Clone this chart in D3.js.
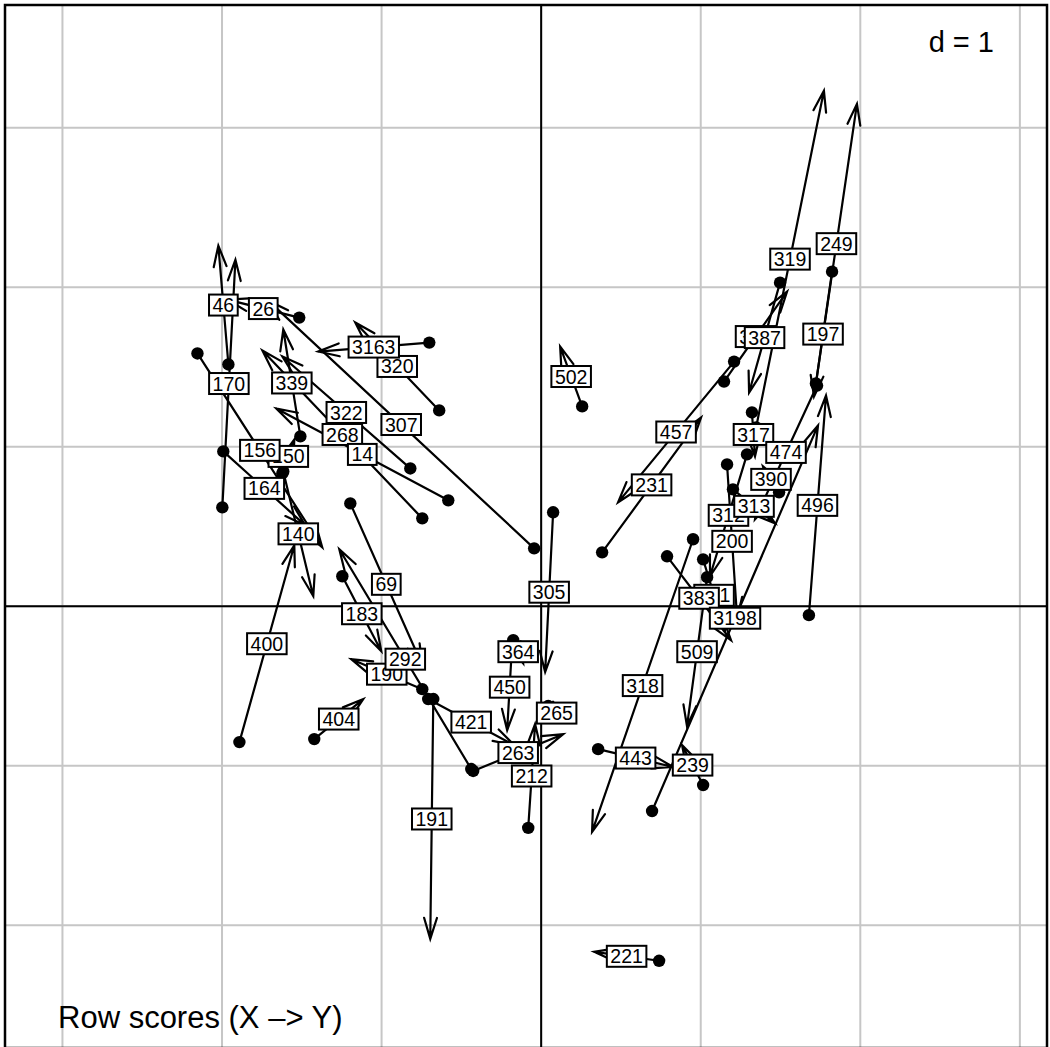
<!DOCTYPE html>
<html>
<head>
<meta charset="utf-8">
<script src="https://cdn.jsdelivr.net/npm/d3@7"></script>
<style>
  body { margin: 0; background: #fff; }
  svg { display: block; }
  text { font-family: "Liberation Sans", Arial, Helvetica, sans-serif; }
</style>
</head>
<body>
<svg id="chart" width="1050" height="1047"></svg>
<script>
// Row identifiers, in drawing order (later labels sit on top of earlier ones)
const rowLabels = ["46","26","320","3163","170","339","322","307","268","150","156","14","164","140",
  "400","69","183","190","292","404","364","450","305","421","191","265","263","212","221",
  "502","457","231","319","249","385","387","197","317","474","390","312","313","200","496",
  "361","383","3198","509","318","443","239"];

// Coordinates of each row in the X table (arrow origin, drawn as a dot)
const originX = [-1.960,-1.516,-0.639,-0.701,-1.998,-1.509,-0.820,-0.044,-0.745,-1.622,-2.154,-0.582,-1.992,-1.616,
  -1.891,-1.196,-1.246,-0.745,-0.438,-1.422,-0.175,-0.182,0.075,-0.708,-0.676,0.044,-0.426,-0.081,0.739,
  0.257,1.209,0.382,1.347,1.722,1.146,1.497,1.823,1.321,1.729,1.491,1.290,1.202,1.165,1.678,
  1.015,0.789,0.695,1.040,0.952,0.357,1.015];
const originY = [1.516,1.810,1.228,1.653,0.620,1.065,0.864,0.363,0.551,0.833,1.585,0.664,0.971,0.845,
  -0.852,0.645,0.188,-0.520,-1.021,-0.833,-0.213,-0.238,0.589,-0.582,-0.582,-0.626,-1.033,-1.390,-2.223,
  1.253,1.534,0.338,1.121,1.397,1.409,2.029,2.098,1.215,1.384,0.714,0.952,0.733,0.889,-0.056,
  0.294,0.313,-1.284,0.182,0.420,-0.896,-1.121];

// Coordinates of each row in the Y table (arrow head)
const targetX = [-2.023,-1.967,-1.165,-1.397,-1.916,-1.616,-1.622,-1.710,-1.747,-1.547,-1.372,-1.660,-1.478,-1.428,
  -1.547,-0.745,-1.002,-1.190,-1.265,-1.115,-0.113,-0.213,0.025,-0.169,-0.695,0.150,0.138,-0.038,0.332,
  0.119,0.482,1.002,1.772,1.979,1.541,1.303,1.710,1.340,1.340,1.390,1.058,1.466,1.228,1.785,
  1.152,1.190,1.735,0.914,0.319,0.827,0.883];
const targetY = [2.261,1.923,1.779,1.597,2.173,1.735,1.566,1.916,1.603,1.046,0.370,1.240,0.507,0.063,
  0.382,-0.370,-0.282,-0.332,0.357,-0.582,-0.357,-0.777,-0.413,-0.871,-2.086,-0.714,-0.802,-0.739,-2.167,
  1.628,0.651,1.184,3.232,3.150,1.973,1.340,1.315,0.939,0.545,0.877,0.188,0.520,-0.075,1.321,
  -0.157,-0.213,1.134,-0.752,-1.415,-1.008,-0.871];

// Grid positions (one unit = d) and plot texts
const gridSteps = [-3, -2, -1, 0, 1, 2, 3];
const scaleText = "d = 1";
const plotTitle = "Row scores (X \u2013> Y)";

const svg = d3.select("#chart");
const frame = { left: 5, top: 5, right: 1047, bottom: 1048 };

const x = d3.scaleLinear().domain([-3.36, 3.17]).range([frame.left, frame.right]);
const y = d3.scaleLinear().domain([3.77, -2.77]).range([frame.top, frame.bottom]);

svg.append("rect").attr("width", 1050).attr("height", 1047).attr("fill", "#fff");

svg.append("clipPath").attr("id", "plotClip")
  .append("rect").attr("x", frame.left).attr("y", frame.top)
  .attr("width", frame.right - frame.left).attr("height", frame.bottom - frame.top);

const plot = svg.append("g").attr("clip-path", "url(#plotClip)");

// light grid
plot.append("g").selectAll("line").data(gridSteps).join("line")
  .attr("x1", d => x(d)).attr("x2", d => x(d))
  .attr("y1", frame.top).attr("y2", frame.bottom)
  .attr("stroke", "#c6c6c6").attr("stroke-width", 2);
plot.append("g").selectAll("line").data(gridSteps).join("line")
  .attr("y1", d => y(d)).attr("y2", d => y(d))
  .attr("x1", frame.left).attr("x2", frame.right)
  .attr("stroke", "#c6c6c6").attr("stroke-width", 2);

// origin axes
plot.append("line").attr("x1", x(0)).attr("x2", x(0)).attr("y1", frame.top).attr("y2", frame.bottom)
  .attr("stroke", "#000").attr("stroke-width", 2);
plot.append("line").attr("y1", y(0)).attr("y2", y(0)).attr("x1", frame.left).attr("x2", frame.right)
  .attr("stroke", "#000").attr("stroke-width", 2);

const rows = rowLabels.map((lab, i) => ({
  label: lab,
  x0: x(originX[i]), y0: y(originY[i]),
  x1: x(targetX[i]), y1: y(targetY[i])
}));

// arrows: shaft plus an open head at the Y end
const headLen = 22, headAngle = 17 * Math.PI / 180;
const arrows = plot.append("g").attr("stroke", "#000").attr("stroke-width", 2.2)
  .attr("fill", "none").attr("stroke-linecap", "round");
rows.forEach(r => {
  const ang = Math.atan2(r.y1 - r.y0, r.x1 - r.x0);
  const p = d3.path();
  p.moveTo(r.x0, r.y0); p.lineTo(r.x1, r.y1);
  p.moveTo(r.x1 - headLen * Math.cos(ang - headAngle), r.y1 - headLen * Math.sin(ang - headAngle));
  p.lineTo(r.x1, r.y1);
  p.lineTo(r.x1 - headLen * Math.cos(ang + headAngle), r.y1 - headLen * Math.sin(ang + headAngle));
  arrows.append("path").attr("d", p.toString());
});

// dots at the X coordinates
plot.append("g").selectAll("circle").data(rows).join("circle")
  .attr("cx", d => d.x0).attr("cy", d => d.y0).attr("r", 6.2).attr("fill", "#000");

// boxed labels at the middle of each arrow
const labG = plot.append("g");
rows.forEach(r => {
  const mx = (r.x0 + r.x1) / 2, my = (r.y0 + r.y1) / 2;
  const g = labG.append("g").attr("transform", `translate(${mx},${my})`);
  const rect = g.append("rect");
  const t = g.append("text").attr("text-anchor", "middle").attr("dy", "0.36em")
    .attr("font-size", 19.5).attr("fill", "#000").text(r.label);
  const w = t.node().getComputedTextLength() + 7;
  rect.attr("x", -w / 2).attr("y", -10.5).attr("width", w).attr("height", 21)
    .attr("fill", "#fff").attr("stroke", "#000").attr("stroke-width", 2);
});

// frame
svg.append("rect").attr("x", frame.left).attr("y", frame.top)
  .attr("width", frame.right - frame.left).attr("height", frame.bottom - frame.top)
  .attr("fill", "none").attr("stroke", "#000").attr("stroke-width", 2.5);

svg.append("text").attr("x", 994).attr("y", 52).attr("text-anchor", "end")
  .attr("font-size", 29).attr("fill", "#000").text(scaleText);

svg.append("text").attr("x", 58).attr("y", 1028).attr("font-size", 31)
  .attr("fill", "#000").text(plotTitle);
</script>
</body>
</html>
